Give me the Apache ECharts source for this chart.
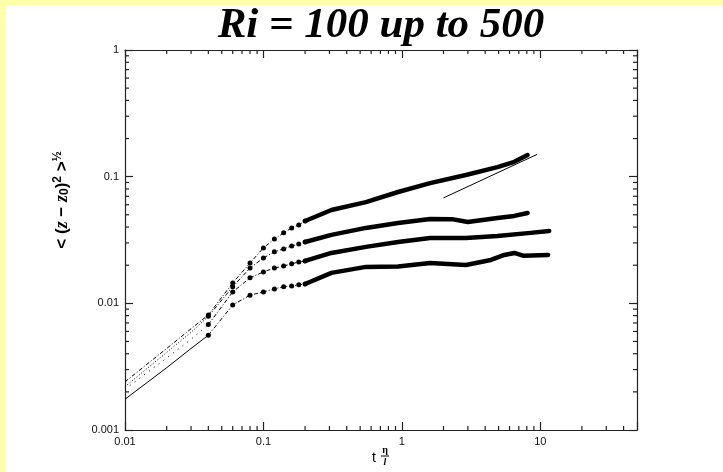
<!DOCTYPE html>
<html>
<head>
<meta charset="utf-8">
<script src="https://cdn.jsdelivr.net/npm/echarts@6/dist/echarts.min.js"></script>
<style>
  html, body { margin: 0; padding: 0; background: #ffffff; }
  #chart { width: 723px; height: 472px; }
</style>
</head>
<body>
<div id="chart"></div>
<script>
// Axis ranges and tick labels
const xRange = [0.01, 50];
const yRange = [0.001, 1];
const xTickLabels = ['0.01', '0.1', '1', '10'];
const yTickLabels = ['0.001', '0.01', '0.1', '1'];
const xMinorTicks = [0.02, 0.03, 0.04, 0.05, 0.06, 0.07, 0.08, 0.09,
                     0.2, 0.3, 0.4, 0.5, 0.6, 0.7, 0.8, 0.9,
                     2, 3, 4, 5, 6, 7, 8, 9, 20, 30, 40];
const yMinorTicks = [0.002, 0.003, 0.004, 0.005, 0.006, 0.007, 0.008, 0.009,
                     0.02, 0.03, 0.04, 0.05, 0.06, 0.07, 0.08, 0.09,
                     0.2, 0.3, 0.4, 0.5, 0.6, 0.7, 0.8, 0.9];

// Early-time lines (no markers)
const tEarly = [0.01, 0.02, 0.03, 0.04];
const early1 = [0.0024, 0.0044, 0.0063, 0.0081];
const early2 = [0.0022, 0.0041, 0.0059, 0.0079];
const early3 = [0.0021, 0.0037, 0.0052, 0.0068];
const early4 = [0.00175, 0.0031, 0.0044, 0.0056];

// Marked samples
const tMark = [0.04, 0.06, 0.08, 0.10, 0.12, 0.14, 0.16, 0.18, 0.20];
const mark1 = [0.0081, 0.0145, 0.0208, 0.0274, 0.0322, 0.036, 0.0394, 0.0416, 0.0447];
const mark2 = [0.0079, 0.0135, 0.019, 0.0228, 0.0255, 0.0269, 0.0284, 0.0294, 0.0305];
const mark3 = [0.0068, 0.0123, 0.0159, 0.0177, 0.019, 0.0197, 0.0205, 0.0212, 0.0216];
const mark4 = [0.0056, 0.0097, 0.0116, 0.0123, 0.013, 0.0135, 0.0137, 0.014, 0.0142];

// Dense late-time samples
const tLate1 = [0.2, 0.31, 0.55, 0.94, 1.6, 2.9, 4.9, 6.5, 8.1];
const late1  = [0.0447, 0.0546, 0.063, 0.0757, 0.089, 0.103, 0.119, 0.131, 0.148];
const tLate2 = [0.2, 0.31, 0.55, 0.94, 1.6, 2.3, 3.0, 4.9, 6.5, 8.1];
const late2  = [0.0305, 0.0347, 0.0394, 0.0431, 0.0464, 0.0462, 0.0438, 0.0472, 0.049, 0.0516];
const tLate3 = [0.2, 0.31, 0.55, 0.94, 1.6, 2.9, 4.9, 8.5, 11.6];
const late3  = [0.0216, 0.025, 0.0279, 0.0305, 0.0328, 0.0328, 0.034, 0.036, 0.0373];
const tLate4 = [0.2, 0.31, 0.55, 0.94, 1.6, 2.9, 4.4, 5.5, 6.5, 7.6, 11.4];
const late4  = [0.0142, 0.0174, 0.0194, 0.0195, 0.0208, 0.0201, 0.022, 0.0241, 0.025, 0.0237, 0.0241];

// t^(1/2) reference line
const tFit = [2, 9.5];
const fit  = [0.068, 0.150];

const pair = (ts, vs) => ts.map((t, i) => [t, vs[i]]);

const chart = echarts.init(document.getElementById('chart'), null, { renderer: 'canvas' });

const labelFromLog = (labels, min) => v => {
  const e = Math.log10(v);
  const r = Math.round(e);
  if (Math.abs(e - r) > 1e-6) return '';
  return labels[r - Math.round(Math.log10(min))] || '';
};

const axisCommon = {
  type: 'log',
  logBase: 10,
  axisLine: { show: true, lineStyle: { color: '#222', width: 1.2 } },
  axisTick: { show: true, inside: true, length: 8, lineStyle: { color: '#222', width: 1.2 } },
  minorTick: { show: false },
  splitLine: { show: false },
};

const earlyStyles = [[4, 2, 1, 2], [1, 2], [1, 5], 'solid'];
const earlySets = [early1, early2, early3, early4];
const markSets = [mark1, mark2, mark3, mark4];
const lateSets = [pair(tLate1, late1), pair(tLate2, late2), pair(tLate3, late3), pair(tLate4, late4)];

const series = [];
earlySets.forEach((vals, i) => {
  series.push({
    type: 'line', data: pair(tEarly, vals), showSymbol: false, symbol: 'none',
    lineStyle: { color: '#000', width: 1, type: earlyStyles[i] }, silent: true, z: 3
  });
});
markSets.forEach((vals) => {
  series.push({
    type: 'line', data: pair(tMark, vals), symbol: 'circle', symbolSize: 5,
    itemStyle: { color: '#000' },
    lineStyle: { color: '#000', width: 1, type: [4, 2, 1, 2] }, silent: true, z: 4
  });
});
lateSets.forEach((d) => {
  series.push({
    type: 'line', data: d, symbol: 'none',
    lineStyle: { color: '#000', width: 4.5, cap: 'round', join: 'round' }, silent: true, z: 4
  });
});
series.push({
  type: 'line', data: pair(tFit, fit), symbol: 'none',
  lineStyle: { color: '#000', width: 1 }, silent: true, z: 5
});

// Minor ticks on all four sides of the frame
const minorData = xMinorTicks.map(v => [v, yRange[0], 0])
  .concat(yMinorTicks.map(v => [xRange[0], v, 1]));
series.push({
  type: 'custom',
  silent: true,
  clip: false,
  z: 6,
  data: minorData,
  encode: { x: 0, y: 1 },
  renderItem: function (params, api) {
    const cs = params.coordSys;
    const kind = api.value(2);
    const p = api.coord([api.value(0), api.value(1)]);
    const len = 4;
    const st = { stroke: '#222', lineWidth: 1.2 };
    if (kind === 0) {
      const b = cs.y + cs.height, t = cs.y;
      return { type: 'group', children: [
        { type: 'line', shape: { x1: p[0], y1: b, x2: p[0], y2: b - len }, style: st },
        { type: 'line', shape: { x1: p[0], y1: t, x2: p[0], y2: t + len }, style: st }
      ]};
    }
    const l = cs.x, r = cs.x + cs.width;
    return { type: 'group', children: [
      { type: 'line', shape: { x1: l, y1: p[1], x2: l + len, y2: p[1] }, style: st },
      { type: 'line', shape: { x1: r, y1: p[1], x2: r - len, y2: p[1] }, style: st }
    ]};
  }
});

chart.setOption({
  animation: false,
  backgroundColor: '#ffffff',
  grid: { left: 125, right: 86, top: 50, bottom: 42, containLabel: false },
  xAxis: [
    Object.assign({}, axisCommon, {
      position: 'bottom', min: xRange[0], max: xRange[1],
      axisLabel: { show: true, color: '#111', fontFamily: 'Liberation Sans', fontSize: 11, margin: 6,
                   formatter: labelFromLog(xTickLabels, xRange[0]) }
    }),
    Object.assign({}, axisCommon, {
      position: 'top', min: xRange[0], max: xRange[1], axisLabel: { show: false }
    })
  ],
  yAxis: [
    Object.assign({}, axisCommon, {
      position: 'left', min: yRange[0], max: yRange[1],
      axisLabel: { show: true, color: '#111', fontFamily: 'Liberation Sans', fontSize: 11, margin: 6,
                   formatter: labelFromLog(yTickLabels, yRange[0]) }
    }),
    Object.assign({}, axisCommon, {
      position: 'right', min: yRange[0], max: yRange[1], axisLabel: { show: false }
    })
  ],
  series: series,
  graphic: [
    // page frame strips
    { type: 'rect', left: 0, top: 0, shape: { width: 723, height: 5 }, style: { fill: '#ffffaa' }, silent: true },
    { type: 'rect', left: 0, top: 0, shape: { width: 6, height: 472 }, style: { fill: '#ffffaa' }, silent: true },
    // title
    { type: 'text', x: 381, y: 4, silent: true,
      style: { text: 'Ri = 100 up to 500', textAlign: 'center', textVerticalAlign: 'top',
               font: 'italic bold 43px "Liberation Serif", "Times New Roman", serif', fill: '#000' } },
    // y-axis name
    { type: 'text', x: 62, y: 200, rotation: Math.PI / 2, silent: true,
      style: {
        text: '{n|< (}{i|z}{n| − }{i|z}{s|0}{n|)}{p|2}{n| >}{p|½}',
        textAlign: 'center', textVerticalAlign: 'middle',
        rich: {
          n: { fontFamily: 'Liberation Sans', fontSize: 17, fontWeight: 'bold', fill: '#000' },
          i: { fontFamily: 'Liberation Serif', fontSize: 18, fontStyle: 'italic', fontWeight: 'bold', fill: '#000' },
          s: { fontFamily: 'Liberation Sans', fontSize: 12, fontWeight: 'bold', fill: '#000', padding: [6, 0, 0, 0] },
          p: { fontFamily: 'Liberation Sans', fontSize: 12, fontWeight: 'bold', fill: '#000', padding: [0, 0, 9, 0] }
        }
      } },
    // x-axis name: t with eta / l fraction
    { type: 'text', x: 374, y: 458, silent: true,
      style: { text: 't', textAlign: 'center', textVerticalAlign: 'middle',
               font: '14px "Liberation Sans"', fill: '#000' } },
    { type: 'text', x: 385, y: 450, silent: true,
      style: { text: 'η', textAlign: 'center', textVerticalAlign: 'middle',
               font: 'bold 10px "Liberation Serif"', fill: '#000' } },
    { type: 'line', shape: { x1: 381, y1: 456, x2: 389, y2: 456 }, style: { stroke: '#000', lineWidth: 1 }, silent: true },
    { type: 'text', x: 385, y: 462, silent: true,
      style: { text: 'l', textAlign: 'center', textVerticalAlign: 'middle',
               font: 'italic bold 10px "Liberation Serif"', fill: '#000' } }
  ]
});
</script>
</body>
</html>
